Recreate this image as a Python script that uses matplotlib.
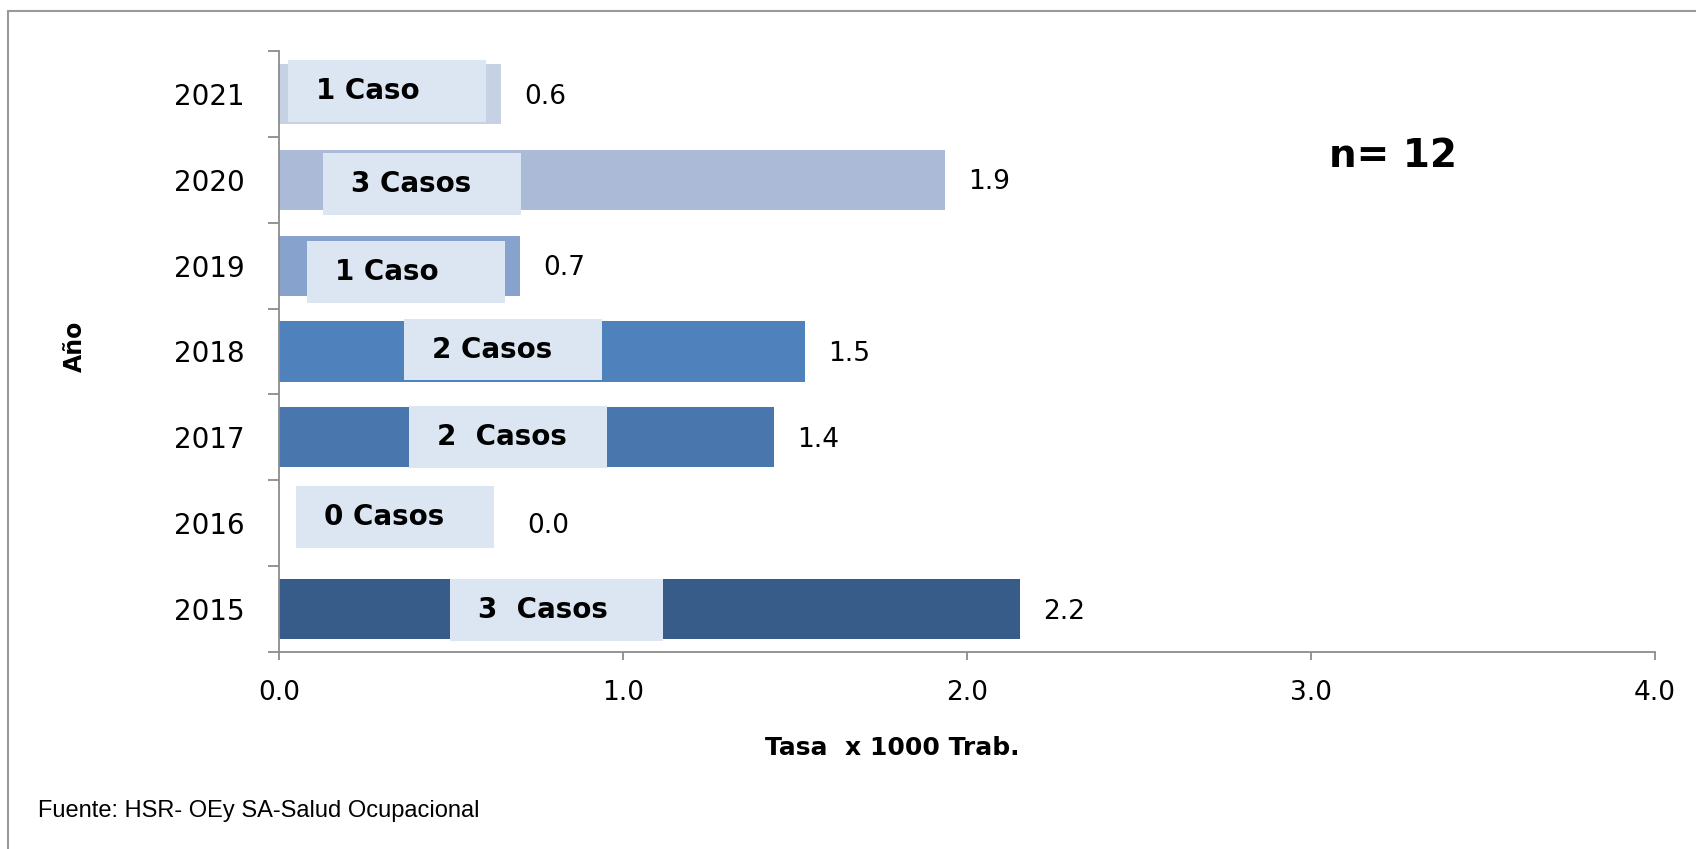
import numpy as np
import matplotlib
matplotlib.use("Agg")
import matplotlib.pyplot as plt
from matplotlib.patches import Rectangle

# data (bottom to top, as drawn)
years = ["2015", "2016", "2017", "2018", "2019", "2020", "2021"]
tasa = [2.155, 0.0, 1.44, 1.53, 0.70, 1.935, 0.645]
casos = ["3  Casos", "0 Casos", "2  Casos", "2 Casos", "1 Caso", "3 Casos", "1 Caso"]
x_ticks = [0, 1, 2, 3, 4]
n_total = 12

bar_colors = ["#375C89", "#375C89", "#4876AD", "#4F81BD", "#87A3CD", "#AABAD7", "#C6D2E4"]
box_color = "#DCE6F2"
axis_gray = "#8C8C8C"

# label box placement (axis units)
box_left = [0.497, 0.049, 0.378, 0.363, 0.082, 0.128, 0.026]
box_width = [0.62, 0.576, 0.576, 0.576, 0.576, 0.576, 0.576]
box_dy = [-0.012, 0.07, 0.0, 0.023, -0.07, -0.047, 0.035]

W, H = 1696, 849
fig = plt.figure(figsize=(W / 100, H / 100), dpi=100)
ax = fig.add_axes([279 / W, 1 - 652 / H, (1655 - 279) / W, (652 - 51) / H])

y = np.arange(len(years))
ax.barh(y, tasa, height=0.7, color=bar_colors, zorder=2)

for i in range(len(years)):
    yc = y[i] + box_dy[i]
    ax.add_patch(Rectangle((box_left[i], yc - 0.36), box_width[i], 0.72,
                           facecolor=box_color, edgecolor="none", zorder=3))
    ax.text(box_left[i] + 0.081, yc, casos[i], ha="left", va="center",
            fontsize=20, fontweight="bold", zorder=4)
    lx = tasa[i] + 0.067 if tasa[i] > 0 else 0.721
    ax.text(lx, y[i] - 0.03, f"{tasa[i]:.1f}", ha="left", va="center", fontsize=19, zorder=4)

ax.set_xlim(0, 4)
ax.set_ylim(-0.5, len(years) - 0.5)
ax.set_xticks(x_ticks)
ax.set_xticklabels([f"{t:.1f}" for t in x_ticks], fontsize=19)
ax.set_yticks(np.arange(-0.5, len(years), 1.0))
ax.set_yticklabels([])
ax.set_yticks(y, minor=True)
ax.set_yticklabels(years, minor=True, fontsize=20)
ax.tick_params(axis="y", which="major", length=8, width=1.3, color=axis_gray, direction="out")
ax.tick_params(axis="y", which="minor", length=0, pad=25)
ax.tick_params(axis="x", length=6, width=1.3, color=axis_gray, direction="out", pad=14)

for s in ["top", "right"]:
    ax.spines[s].set_visible(False)
for s in ["left", "bottom"]:
    ax.spines[s].set_color(axis_gray)
    ax.spines[s].set_linewidth(1.3)

fig.text(75 / W, 1 - 346 / H, "Año", rotation=90, ha="center", va="center",
         fontsize=17, fontweight="bold")
fig.text(892 / W, 1 - 748 / H, "Tasa  x 1000 Trab.", ha="center", va="center",
         fontsize=18, fontweight="bold")
fig.text(1393 / W, 1 - 156 / H, f"n= {n_total}", ha="center", va="center",
         fontsize=28, fontweight="bold")
fig.text(38 / W, 1 - 811 / H, "Fuente: HSR- OEy SA-Salud Ocupacional", ha="left", va="center",
         fontsize=17, family="Liberation Sans")

# outer frame (only top and left edges fall inside the picture)
fig.patches.append(Rectangle((8 / W, -0.05), 1.1, 1 - 11 / H + 0.05, transform=fig.transFigure,
                             fill=False, edgecolor="#999999", linewidth=1.5))

fig.savefig("out.png", dpi=100)
